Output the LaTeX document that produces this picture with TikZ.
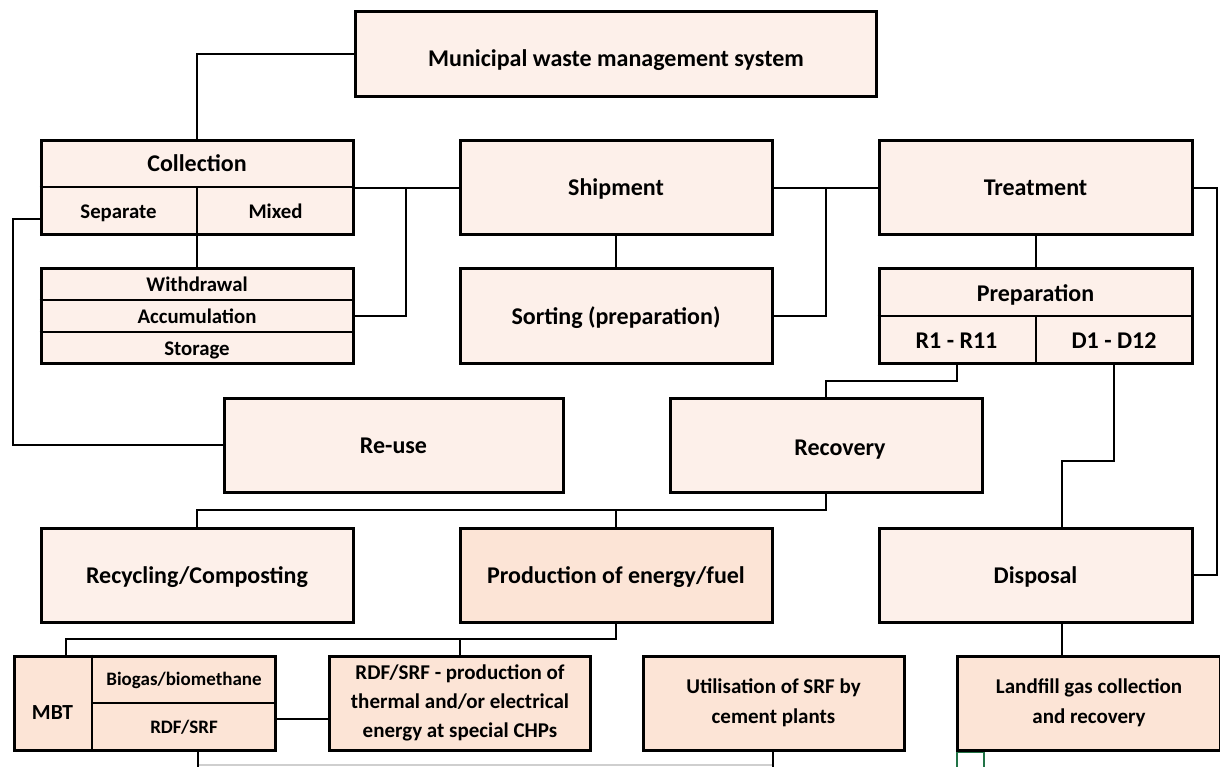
\documentclass[tikz,border=0pt]{standalone}
\usepackage{fontspec}
\setmainfont{Carlito}
\definecolor{lightfill}{HTML}{FDF0EA}
\definecolor{darkfill}{HTML}{FCE4D6}
\definecolor{greyline}{HTML}{CFCFCF}
\definecolor{xlgreen}{HTML}{217346}
\begin{document}
\begin{tikzpicture}[x=1pt,y=-1pt,
  basebox/.style={draw, line width=3pt, fill=lightfill, inner sep=0pt, align=center},
  box/.style={basebox, text height=16pt, text depth=0pt,
    font=\bfseries\fontsize{24}{28}\selectfont},
  dbox/.style={box, fill=darkfill},
  ebox/.style={basebox, fill=darkfill},
  bbox/.style={basebox, fill=darkfill, font=\bfseries\fontsize{21}{29}\selectfont},
  cbox/.style={basebox, fill=darkfill, font=\bfseries\fontsize{21}{30}\selectfont},
  lbl/.style={inner sep=0pt, align=center, text height=16pt, text depth=0pt,
    font=\bfseries\fontsize{24}{28}\selectfont},
  slbl/.style={inner sep=0pt, align=center, text height=14pt, text depth=1pt,
    font=\bfseries\fontsize{20.8}{24}\selectfont},
  blbl/.style={inner sep=0pt, align=center, text height=13pt, text depth=0pt,
    font=\bfseries\fontsize{19}{23}\selectfont},
  conn/.style={line width=2pt},
  divider/.style={line width=2pt}]
\useasboundingbox (0,0) rectangle (1220,767);
% ---------- boxes ----------
\node[basebox, minimum width=521, minimum height=85] (muni) at (616,54) {};
\node[basebox, minimum width=312, minimum height=94] (coll) at (197,188) {};
\node[box, minimum width=312, minimum height=94] (ship) at (616,188) {Shipment};
\node[box, minimum width=313, minimum height=94] (treat) at (1035.5,188) {Treatment};
\node[basebox, minimum width=312, minimum height=94] (wst) at (197,316) {};
\node[box, minimum width=312, minimum height=94] (sort) at (616,316) {Sorting (preparation)};
\node[basebox, minimum width=313, minimum height=94] (prep) at (1035.5,316) {};
\node[box, minimum width=339, minimum height=94] (reuse) at (393.5,445) {Re-use};
\node[basebox, minimum width=312, minimum height=94] (recov) at (826,445) {};
\node[box, minimum width=312, minimum height=94] (recyc) at (197,575) {Recycling/Composting};
\node[dbox, minimum width=312, minimum height=94] (prod) at (616,575) {Production of energy/fuel};
\node[box, minimum width=313, minimum height=94] (disp) at (1035.5,575) {Disposal};
\node[ebox, minimum width=261, minimum height=94] (mbt) at (144.5,703) {};
\node[bbox, minimum width=261, minimum height=94] (chp) at (460,703) {RDF/SRF - production of\\thermal and/or electrical\\energy at special CHPs};
\node[cbox, minimum width=261, minimum height=94] (cem) at (773.5,703) {Utilisation of SRF by\\cement plants};
\node[cbox, minimum width=263, minimum height=94] (land) at (1089,703) {Landfill gas collection\\and recovery};
% ---------- labels ----------
\node[lbl] (munilbl) at (616,59) {Municipal waste management system};
\node[lbl] (recovlbl) at (840,447) {Recovery};
\node[lbl] (colllbl) at (197,164) {Collection};
\node[slbl] (sep) at (118.5,212) {Separate};
\node[slbl] (mix) at (275.5,212) {Mixed};
\node[slbl] (wd) at (197,284.5) {Withdrawal};
\node[slbl] (acc) at (197,316.5) {Accumulation};
\node[slbl] (sto) at (197,348.5) {Storage};
\node[lbl] (preplbl) at (1035.5,293) {Preparation};
\node[lbl] (r1) at (956.5,340) {R1 - R11};
\node[lbl] (d1) at (1114,340) {D1 - D12};
\node[lbl, text height=14pt, font=\bfseries\fontsize{21.5}{26}\selectfont] (mbtl) at (52.5,712) {MBT};
\node[blbl] (bio) at (184,679) {Biogas/biomethane};
\node[blbl] (rdf) at (184,727) {RDF/SRF};
% ---------- dividers ----------
\draw[divider] (coll.west |- 0,187) -- (coll.east |- 0,187);
\draw[divider] (coll.north |- 0,187) -- (coll.south);
\draw[divider] (wst.west |- 0,300) -- (wst.east |- 0,300);
\draw[divider] (wst.west |- 0,332) -- (wst.east |- 0,332);
\draw[divider] (prep.west) -- (prep.east);
\draw[divider] (prep.center) -- (prep.south);
\draw[divider] (mbt.north west) ++(79,0) coordinate (mv) (mv) -- (mv |- mbt.south);
\draw[divider] (mv |- mbt.center) -- (mbt.east);
% ---------- coordinates ----------
\coordinate (j1) at (406,188);
\coordinate (j2) at (826,188);
\coordinate (s1) at (40,219);
\coordinate (k) at (1062,461);
\coordinate (m) at (616,510);
\coordinate (p1) at (616,639);
\coordinate (mb) at (66,655);
\coordinate (mr) at (276,719);
\coordinate (b1) at (198,751);
\coordinate (b2) at (773,751);
\coordinate (bl) at (198,765);
\coordinate (br) at (773,765);
% ---------- connectors ----------
\draw[conn] (muni.west) -| (coll.north);
\draw[conn] (coll.east) -- (ship.west);
\draw[conn] (j1) |- (wst.east);
\draw[conn] (coll.south) -- (wst.north);
\draw[conn] (s1) -- ++(-27,0) |- (reuse.west);
\draw[conn] (ship.south) -- (sort.north);
\draw[conn] (ship.east) -- (treat.west);
\draw[conn] (j2) |- (sort.east);
\draw[conn] (treat.east) -- ++(23,0) |- (disp.east);
\draw[conn] (treat.south) -- (prep.north);
\draw[conn] (r1 |- prep.south) -- ++(0,16) -| (recov.north);
\draw[conn] (d1 |- prep.south) |- (k) -- (k |- disp.north);
\draw[conn] (recov.south) |- (m) -| (recyc.north);
\draw[conn] (m) -- (prod.north);
\draw[conn] (prod.south) -- (p1) -| (mb);
\draw[conn] (p1) -| (chp.north);
\draw[conn] (mr) -- (mr -| chp.west);
\draw[conn] (k |- disp.south) -- (k |- land.north);
\draw[line width=2pt, greyline] (bl) -- (br);
\draw[conn] (b1) -- ++(0,20);
\draw[conn] (b2) -- ++(0,20);
% ---------- selection mark ----------
\draw[xlgreen, line width=1.5pt] (957,775) -- (957,752.5) -- (984,752.5) -- (984,760);
\draw[xlgreen, line width=2pt] (984,760) -- (984,768);
\end{tikzpicture}
\end{document}
